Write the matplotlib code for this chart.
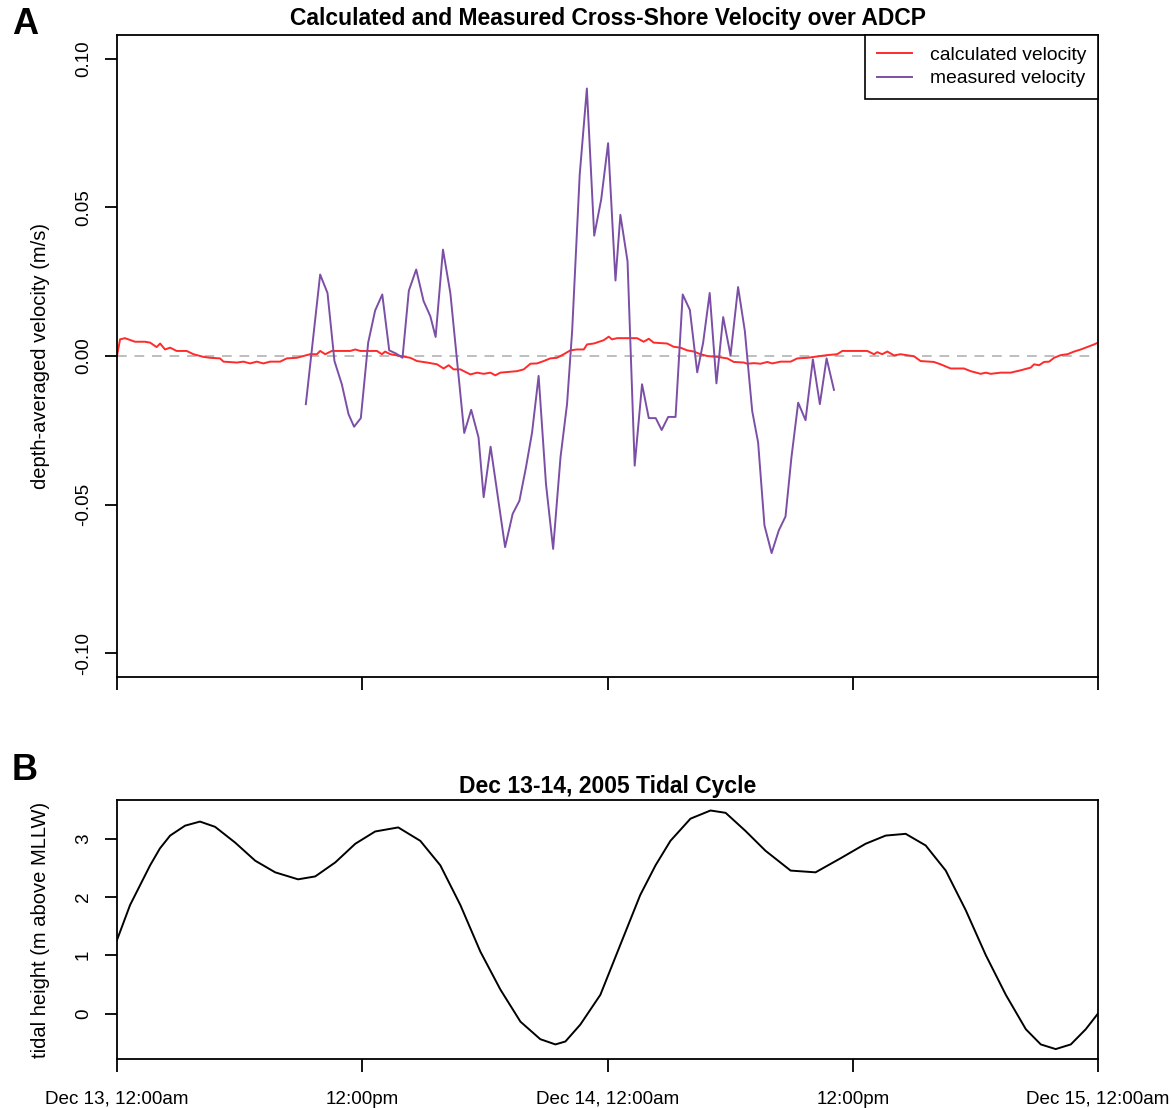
import matplotlib
matplotlib.use("Agg")
import matplotlib.pyplot as plt
import numpy as np

plt.rcParams['font.family'] = ['Liberation Sans', 'DejaVu Sans']

# ---- data (hours since Dec 13, 12:00am) ----
calc_hours = [0.0, 0.15, 0.39, 0.88, 1.37, 1.62, 1.94, 2.11, 2.35, 2.60, 2.92, 3.41, 3.74, 4.23, 4.55,
              5.04, 5.21, 5.86, 6.19, 6.51, 6.84, 7.16, 7.49, 7.98, 8.31, 8.80, 9.45, 9.78, 9.94, 10.19,
              10.51, 11.41, 11.66, 11.90, 12.72, 12.96, 13.12, 13.37, 13.86, 14.35, 14.68, 15.17, 15.66,
              15.98, 16.23, 16.47, 16.80, 17.29, 17.62, 17.94, 18.27, 18.51, 18.76, 19.25, 19.57, 19.90,
              20.23, 20.55, 20.88, 21.20, 21.53, 21.86, 22.18, 22.51, 22.84, 23.00, 23.33, 23.81, 24.06,
              24.22, 24.47, 25.45, 25.77, 26.02, 26.26, 26.92, 27.24, 27.57, 27.90, 28.22, 28.55, 28.88,
              29.37, 29.86, 30.18, 30.67, 30.84, 31.16, 31.49, 31.82, 32.06, 32.47, 32.96, 33.29, 33.78,
              34.10, 34.75, 35.24, 35.49, 36.71, 37.04, 37.20, 37.44, 37.69, 38.02, 38.34, 39.00, 39.32,
              39.97, 40.30, 40.79, 41.44, 41.77, 42.26, 42.51, 42.75, 43.24, 43.73, 44.22, 44.71, 44.87,
              45.12, 45.36, 45.61, 45.85, 46.18, 46.51, 46.83, 47.16, 47.81, 48.0]
calc_vel = [0.0, 0.0056, 0.0060, 0.0048, 0.0048, 0.0045, 0.0030, 0.0042, 0.0022, 0.0028, 0.0017, 0.0017,
            0.0006, -0.0003, -0.0006, -0.0008, -0.0019, -0.0022, -0.0019, -0.0025, -0.0019, -0.0025,
            -0.0019, -0.0019, -0.0008, -0.0006, 0.0006, 0.0006, 0.0017, 0.0006, 0.0017, 0.0017, 0.0022,
            0.0017, 0.0017, 0.0006, 0.0015, 0.0006, 0.0, -0.0006, -0.0017, -0.0022, -0.0028, -0.0042,
            -0.0031, -0.0045, -0.0045, -0.0062, -0.0056, -0.0060, -0.0056, -0.0065, -0.0056, -0.0053,
            -0.0051, -0.0045, -0.0026, -0.0025, -0.0017, -0.0008, -0.0006, 0.0006, 0.0019, 0.0022, 0.0022,
            0.0039, 0.0042, 0.0053, 0.0065, 0.0056, 0.0060, 0.0060, 0.0048, 0.0058, 0.0045, 0.0042,
            0.0031, 0.0028, 0.0019, 0.0015, 0.0006, 0.0, -0.0003, -0.0008, -0.0020, -0.0022, -0.0026,
            -0.0024, -0.0026, -0.0020, -0.0025, -0.0019, -0.0019, -0.0008, -0.0006, -0.0003, 0.0003,
            0.0006, 0.0017, 0.0017, 0.0006, 0.0013, 0.0006, 0.0015, 0.0002, 0.0006, -0.0001, -0.0017,
            -0.0020, -0.0028, -0.0042, -0.0042, -0.0051, -0.0060, -0.0056, -0.0060, -0.0056, -0.0056,
            -0.0048, -0.0039, -0.0028, -0.0031, -0.0020, -0.0019, -0.0006, 0.0003, 0.0006, 0.0015,
            0.0022, 0.0039, 0.0045]

meas_hours = [9.24, 9.94, 10.30, 10.64, 11.00, 11.33, 11.60, 11.93, 12.29, 12.63, 12.98, 13.32, 13.66,
              13.97, 14.28, 14.64, 15.00, 15.33, 15.59, 15.95, 16.31, 16.99, 17.33, 17.69, 17.94, 18.28,
              18.99, 19.36, 19.69, 20.01, 20.31, 20.63, 20.99, 21.34, 21.70, 22.02, 22.27, 22.64, 22.99,
              23.35, 23.69, 24.03, 24.39, 24.63, 24.98, 25.33, 25.69, 26.02, 26.36, 26.65, 26.97, 27.33,
              27.68, 28.03, 28.39, 28.68, 29.00, 29.33, 29.66, 30.02, 30.39, 30.72, 31.08, 31.37, 31.68,
              32.03, 32.38, 32.71, 33.00, 33.33, 33.69, 34.05, 34.39, 34.72, 35.08]
meas_vel = [-0.0162, 0.0274, 0.0212, -0.0017, -0.0095, -0.0196, -0.0238, -0.0209, 0.0045, 0.0153,
            0.0207, 0.0019, 0.0008, -0.0006, 0.0220, 0.0291, 0.0185, 0.0134, 0.0064, 0.0358, 0.0212,
            -0.0259, -0.0181, -0.0274, -0.0475, -0.0305, -0.0643, -0.0531, -0.0487, -0.0375, -0.0257,
            -0.0067, -0.0431, -0.0649, -0.0341, -0.0162, 0.0084, 0.0610, 0.0900, 0.0405, 0.0526, 0.0716,
            0.0254, 0.0475, 0.0319, -0.0369, -0.0095, -0.0209, -0.0209, -0.0249, -0.0205, -0.0205,
            0.0207, 0.0155, -0.0055, 0.0045, 0.0212, -0.0092, 0.0131, 0.0002, 0.0232, 0.0084, -0.0185,
            -0.0291, -0.0570, -0.0663, -0.0587, -0.0540, -0.0341, -0.0157, -0.0216, -0.0011, -0.0162,
            -0.0008, -0.0114]

tide_hours = [0.0, 0.64, 1.62, 2.1, 2.6, 3.33, 4.06, 4.8, 5.78, 6.76, 7.74, 8.86, 9.7, 10.68, 11.66,
              12.63, 13.76, 14.84, 15.82, 16.8, 17.78, 18.76, 19.74, 20.71, 21.45, 21.94, 22.67, 23.65,
              24.63, 25.6, 26.35, 27.08, 28.06, 29.04, 29.78, 30.75, 31.73, 32.96, 34.18, 35.4, 36.63,
              37.61, 38.59, 39.57, 40.55, 41.53, 42.51, 43.49, 44.47, 45.2, 45.93, 46.67, 47.4, 48.0]
tide_height = [1.26, 1.86, 2.54, 2.83, 3.05, 3.22, 3.29, 3.2, 2.93, 2.62, 2.42, 2.30, 2.35, 2.59, 2.91,
               3.12, 3.19, 2.96, 2.54, 1.86, 1.06, 0.41, -0.14, -0.44, -0.53, -0.48, -0.19, 0.32, 1.18,
               2.03, 2.54, 2.96, 3.34, 3.48, 3.44, 3.13, 2.79, 2.45, 2.42, 2.66, 2.91, 3.05, 3.08, 2.88,
               2.45, 1.77, 1.0, 0.32, -0.27, -0.53, -0.61, -0.53, -0.27, 0.0]

xtick_hours = [0, 12, 24, 36, 48]
xtick_labels = ["Dec 13, 12:00am", "12:00pm", "Dec 14, 12:00am", "12:00pm", "Dec 15, 12:00am"]
vel_ticks = [-0.10, -0.05, 0.00, 0.05, 0.10]
vel_tick_labels = ["-0.10", "-0.05", "0.00", "0.05", "0.10"]
tide_ticks = [0, 1, 2, 3]

W, H = 1171, 1108
fig = plt.figure(figsize=(W / 100, H / 100), dpi=100)

def frac(x0, y0, x1, y1):
    return [x0 / W, 1 - y1 / H, (x1 - x0) / W, (y1 - y0) / H]

axA = fig.add_axes(frac(117, 35, 1098, 677))
axB = fig.add_axes(frac(117, 800, 1098, 1059))

for ax in (axA, axB):
    for s in ax.spines.values():
        s.set_linewidth(1.3)
    ax.tick_params(axis='both', length=9, width=1.3, labelsize=13.6, direction='out')
    ax.tick_params(axis='y', pad=9)
    ax.set_xlim(0, 48)
    ax.set_xticks(xtick_hours)

# Panel A
axA.axhline(0, color='#BEBEBE', lw=1.4, ls=(0, (5, 4)))
axA.plot(calc_hours, calc_vel, color='#FF2A2A', lw=1.4, label='calculated velocity')
axA.plot(meas_hours, meas_vel, color='#7B4FA6', lw=1.4, label='measured velocity')
axA.set_ylim(-0.108, 0.108)
axA.set_yticks(vel_ticks)
axA.set_yticklabels(vel_tick_labels, rotation=90, va='center')
axA.set_xticklabels([])
axA.set_ylabel('depth-averaged velocity (m/s)', fontsize=14.5, labelpad=18)
axA.set_title('Calculated and Measured Cross-Shore Velocity over ADCP', fontsize=16.5,
              fontweight='bold', pad=7)
leg = axA.legend(loc='upper right', borderaxespad=0, fancybox=False, framealpha=1,
                 edgecolor='black', fontsize=13.9, handlelength=1.8, handletextpad=0.95,
                 borderpad=0.6, labelspacing=0.3)
leg.get_frame().set_linewidth(1.2)

# Panel B
axB.plot(tide_hours, tide_height, color='black', lw=1.4)
axB.set_ylim(-0.78, 3.66)
axB.set_yticks(tide_ticks)
axB.set_yticklabels([str(t) for t in tide_ticks], rotation=90, va='center')
axB.set_xticklabels(xtick_labels)
axB.tick_params(axis='x', pad=14)
axB.set_ylabel('tidal height (m above MLLW)', fontsize=14.5, labelpad=18)
axB.set_title('Dec 13-14, 2005 Tidal Cycle', fontsize=16.5, fontweight='bold', pad=5)

fig.text(25 / W, 1 - 24 / H, 'A', fontsize=26, fontweight='bold', ha='center', va='center')
fig.text(25 / W, 1 - 770 / H, 'B', fontsize=26, fontweight='bold', ha='center', va='center')

fig.savefig('out.png', dpi=100)
